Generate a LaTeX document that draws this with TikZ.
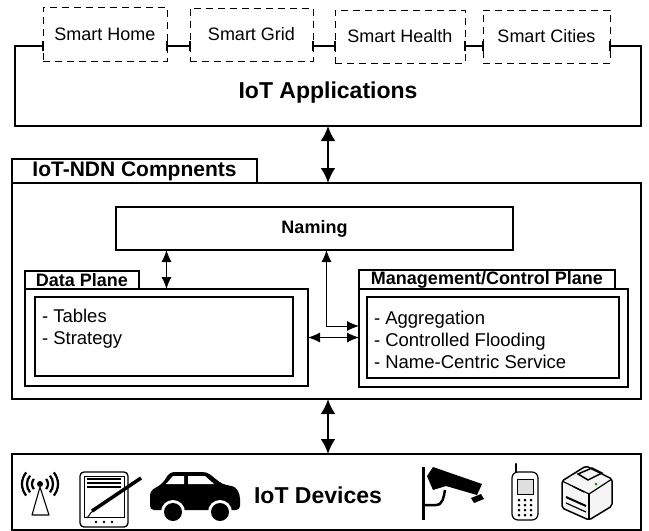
\documentclass[tikz,border=0pt]{standalone}
\usepackage{fontspec}
\setmainfont{Liberation Sans}
\usetikzlibrary{positioning,calc,arrows.meta}

\begin{document}
\begin{tikzpicture}[
    x=1pt, y=-1pt,
    every node/.style={inner sep=0pt, outer sep=0pt},
    box/.style={rectangle, draw, line width=1.3pt},
    appbox/.style={rectangle, draw, dash pattern=on 7pt off 5pt, line width=1pt, fill=white, minimum height=53, font=\fontsize{18}{20}\selectfont},
    tab/.style={rectangle, draw, line width=1.3pt, fill=white, font=\bfseries\fontsize{18}{20}\selectfont},
    title/.style={font=\bfseries\fontsize{23}{26}\selectfont},
    item/.style={align=left, font=\fontsize{18.5}{22}\selectfont},
    arrow/.style={{Latex[length=12pt,width=10pt]}-{Latex[length=12pt,width=10pt]}, line width=0.9pt},
    bigarrow/.style={{Latex[length=15pt,width=15pt]}-{Latex[length=15pt,width=15pt]}, line width=2.4pt},
    tick/.style={line width=1.3pt}
]
    \useasboundingbox (0,0) rectangle (649,531);

    \node[box, minimum width=626, minimum height=80] (apps) at (328,86) {};
    \node[title] (appstext) at (328,93) {IoT Applications};
    \node[appbox, minimum width=124, minimum height=54] (home) at (105,34) {Smart Home};
    \node[appbox, minimum width=123] (grid) at (251.5,34.5) {Smart Grid};
    \node[appbox, minimum width=130] (health) at (400,36.5) {Smart Health};
    \node[appbox, minimum width=127] (cities) at (546.5,36.5) {Smart Cities};
    \foreach \b in {home,grid,health,cities} {
        \draw[tick] (\b.west |- apps.north) ++(0,-5) -- ++(0,10);
        \draw[tick] (\b.east |- apps.north) ++(0,-5) -- ++(0,10);
    }

    \node[box, minimum width=629, minimum height=216] (ndn) at (326.5,291) {};
    \node[tab, minimum width=245, minimum height=24, font=\bfseries\fontsize{21}{24}\selectfont] (ndntab) at (134.5,171) {IoT-NDN Compnents};

    \node[box, minimum width=397, minimum height=43, font=\bfseries\fontsize{18}{20}\selectfont] (naming) at (314.5,228.5) {Naming};

    \node[box, minimum width=283, minimum height=97] (dataout) at (166.5,337.5) {};
    \node[tab, minimum width=114, minimum height=18] (datatab) at (82,280) {Data Plane};
    \node[box, minimum width=258, minimum height=79] (datain) at (164,336.5) {};
    \node[item, anchor=west] (datatext) at (42,329) {- Tables\\- Strategy};

    \node[box, minimum width=269, minimum height=98] (mgmtout) at (493.5,338) {};
    \node[tab, minimum width=256, minimum height=19] (mgmttab) at (487,279.5) {Management/Control Plane};
    \node[box, minimum width=252, minimum height=81] (mgmtin) at (493,337.5) {};
    \node[item, anchor=west] (mgmttext) at (374,340) {- Aggregation\\- Controlled Flooding\\- Name-Centric Service};

    \node[box, minimum width=629, minimum height=76] (devices) at (326.5,492) {};
    \node[title] (devtext) at (318,495) {IoT Devices};

    \draw[bigarrow] (apps.south) -- (apps.south |- ndn.north);
    \draw[bigarrow] (ndn.south -| apps.south) -- (devices.north -| apps.south);
    \draw[arrow] (dataout.north |- naming.south) -- (dataout.north);
    \draw[arrow] (naming.south -| ndn.north) |- ([yshift=12pt]mgmtout.west);
    \draw[arrow] (dataout.east) -- (dataout.east -| mgmtout.west);

    \fill (40,484) circle (3);
    \foreach \r in {8,13,18} {
        \draw[line width=2.2pt] (40,484) ++(140:\r) arc[start angle=140, end angle=220, radius=\r];
        \draw[line width=2.2pt] (40,484) ++(-40:\r) arc[start angle=-40, end angle=40, radius=\r];
    }
    \draw[line width=1.1pt, line join=round] (40,487) -- (32,515) -- (49,515) -- cycle;

    \draw[line width=1.3pt, fill=white, rounded corners=4pt] (80,472) rectangle (128,527);
    \draw[line width=0.8pt] (84,476) rectangle (124,517);
    \foreach \yy in {479,483,487} \draw[line width=2.2pt] (87,\yy) -- (121,\yy);
    \foreach \xx in {96,104,112} \fill (\xx,522) circle (1.3);
    \draw[line width=3.5pt] (92,511) -- (141,478);
    \draw[line width=1pt] (86,517) to[out=-60,in=200] (93,511);

    \fill[rounded corners=4pt] (150,510) -- (150,491) -- (162,484) -- (170,472) -- (207,472) -- (222,484) -- (236,487) -- (240,495) -- (240,510) -- cycle;
    \fill[white] (173,476) -- (184,476) -- (184,484) -- (166,484) -- cycle;
    \fill[white] (188,476) -- (205,476) -- (214,484) -- (188,484) -- cycle;
    \foreach \xx in {173,220} {
        \fill[white] (\xx,512) circle (12);
        \fill (\xx,512) circle (9);
    }

    \draw[line width=3pt] (423,467) -- (423,520);
    \draw[line width=2.5pt] (423,505) -- (436,505) to[out=0,in=-100] (445,490);
    \fill (427,476) -- (433,467) -- (482,484) -- (477,495) -- (446,486) -- (433,490) -- cycle;
    \fill (471,498) -- (481,494) -- (484,499) -- (474,503) -- cycle;

    \draw[line width=2.5pt, line cap=round] (516,464) -- (516,474);
    \draw[line width=1.2pt, fill=white, rounded corners=6pt] (512,472) rectangle (538,520);
    \draw[line width=0.8pt, fill=gray!25] (517,479) rectangle (533,494);
    \foreach \xx in {519,525,531} \foreach \yy in {500,505,510,515} \fill (\xx,\yy) circle (1.5);

    \draw[line width=1.5pt, fill=gray!8, rounded corners=2pt] (562,481) -- (586,466) -- (612,479) -- (612,506) -- (589,520) -- (562,508) -- cycle;
    \draw[line width=1.2pt] (562,481) -- (589,494) -- (612,479);
    \draw[line width=1.2pt] (589,494) -- (589,520);
    \draw[line width=2pt] (566,497) -- (586,506);
    \draw[line width=1.2pt] (566,503) -- (586,512);
    \draw[line width=1.5pt] (578,474) -- (592,468) -- (602,473) -- (588,480) -- cycle;
    \draw[line width=1.2pt] (572,486) -- (584,492);
    \fill[green!60!black] (596,484) circle (1.5);
\end{tikzpicture}
\end{document}
